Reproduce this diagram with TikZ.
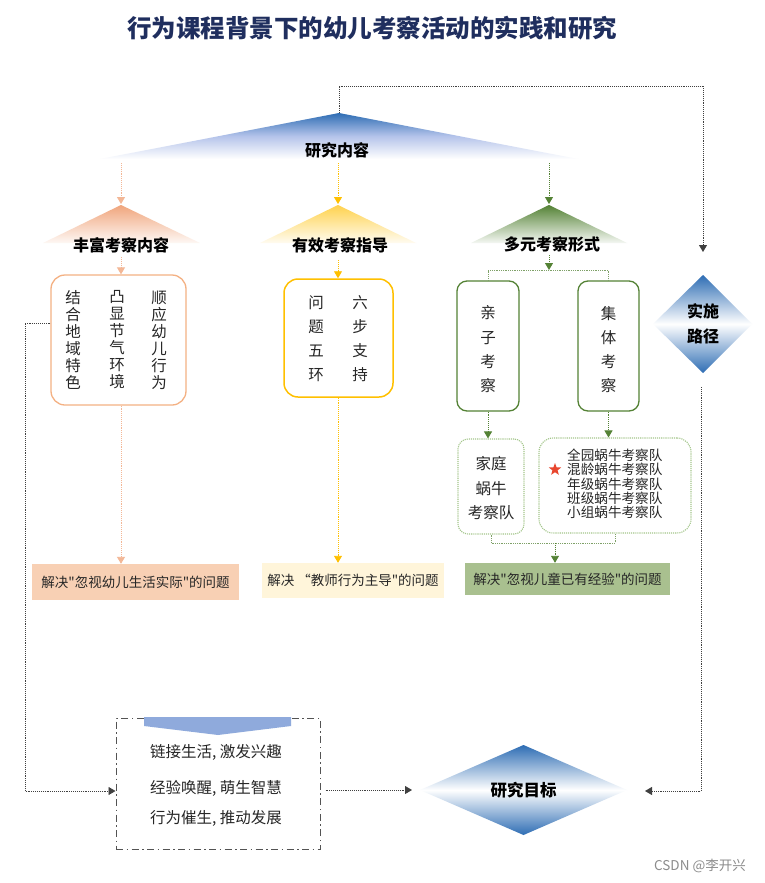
\documentclass[tikz,border=0pt]{standalone}
\usepackage{fontspec}
\setmainfont{Noto Sans CJK SC}
\newfontfamily\qf{Noto Sans CJK SC}
\usetikzlibrary{arrows.meta,shapes.geometric,calc}
\definecolor{navy}{HTML}{1F2E5E}
\definecolor{blueD}{HTML}{2E6DB4}
\definecolor{blueM}{HTML}{B4C3EA}
\definecolor{orgD}{HTML}{F0A57C}
\definecolor{orgB}{HTML}{F4B183}
\definecolor{orgF}{HTML}{F8D0B4}
\definecolor{ylwD}{HTML}{FFC000}
\definecolor{ylwT}{HTML}{FFD24D}
\definecolor{ylwF}{HTML}{FFF5DA}
\definecolor{grnD}{HTML}{548235}
\definecolor{grnL}{HTML}{A3C68A}
\definecolor{grnF}{HTML}{A9C08F}
\definecolor{txt}{HTML}{262626}
\definecolor{bann}{HTML}{8FAADC}
\definecolor{lineK}{HTML}{404040}
\newcommand\sq{{\qf "}}
\tikzset{
  conn/.style={densely dotted, line width=0.9pt},
  arr/.style={-{Triangle[width=8pt,length=7pt]}},
  head/.style={font=\bfseries\fontsize{16}{18}\selectfont, text=black, inner sep=1pt},
  col/.style={align=center, text=txt, inner sep=0pt},
  fillbox/.style={minimum width=#1, inner sep=0pt, text=txt, font=\fontsize{13.5}{16}\selectfont},
}
\begin{document}
\begin{tikzpicture}[x=1pt,y=-1pt]
\useasboundingbox (0,0) rectangle (765,883);
\fill[white] (0,0) rectangle (765,883);

% title
\node[font=\bfseries\fontsize{24.5}{28}\selectfont, text=navy] (title) at (372,28) {行为课程背景下的幼儿考察活动的实践和研究};

% 研究内容 triangle
\shade[top color=blueD, bottom color=white, middle color=blueM] (339,113) -- (578,159) -- (100,159) -- cycle;
\coordinate (rcApex) at (339,113);
\node[head] (rc) at (337,150) {研究内容};

% three sub triangles
\shade[top color=orgD, bottom color=orgD!8] (121,205) -- (200,243) -- (43,243) -- cycle;
\shade[top color=ylwT, bottom color=ylwT!8] (338,205) -- (416,243) -- (260,243) -- cycle;
\shade[top color=grnD, bottom color=grnD!6] (549,205) -- (627,243) -- (471,243) -- cycle;
\coordinate (t1) at (121,204);
\coordinate (t2) at (338,204);
\coordinate (t3) at (549,204);
\coordinate (s1) at (121,163);
\coordinate (s2) at (338,163);
\coordinate (s3) at (549,163);
\node[head] (h1) at (121,245) {丰富考察内容};
\node[head] (h2) at (340,245) {有效考察指导};
\node[head] (h3) at (552,244) {多元考察形式};

\draw[conn, orgD!80, arr] (s1) -- (t1);
\draw[conn, ylwD, arr] (s2) -- (t2);
\draw[conn, grnD, arr] (s3) -- (t3);

% orange box
\node[draw=orgB, line width=1.3pt, rounded corners=14pt, minimum width=135pt, minimum height=130pt] (b1) at (118.5,340) {};
\node[col, font=\fontsize{15.5}{17}\selectfont] (c1a) at (73,340) {结\\合\\地\\域\\特\\色};
\node[col, font=\fontsize{15.5}{17}\selectfont] (c1b) at (117,340) {凸\\显\\节\\气\\环\\境};
\node[col, font=\fontsize{15.5}{17}\selectfont] (c1c) at (159,340) {顺\\应\\幼\\儿\\行\\为};

% yellow box
\node[draw=ylwD, line width=1.5pt, rounded corners=14pt, minimum width=109pt, minimum height=118pt] (b2) at (338.5,338) {};
\node[col, font=\fontsize{15.5}{24}\selectfont] (c2a) at (316,339) {问\\题\\五\\环};
\node[col, font=\fontsize{15.5}{24}\selectfont] (c2b) at (360,339) {六\\步\\支\\持};

% green boxes
\node[draw=grnD, line width=1.3pt, rounded corners=10pt, minimum width=62pt, minimum height=130pt] (b3) at (488,346) {};
\node[col, font=\fontsize{15.5}{24.3}\selectfont] (c3) at (488,349.5) {亲\\子\\考\\察};
\node[draw=grnD, line width=1.3pt, rounded corners=10pt, minimum width=61pt, minimum height=130pt] (b4) at (608.5,346) {};
\node[col, font=\fontsize{15.5}{24.3}\selectfont] (c4) at (608.5,349.5) {集\\体\\考\\察};

\node[draw=grnL, densely dotted, line width=1.1pt, rounded corners=10pt, minimum width=66pt, minimum height=95pt] (b5) at (491,486.5) {};
\node[col, font=\fontsize{15.5}{24.5}\selectfont] (c5) at (491,488.5) {家庭\\蜗牛\\考察队};
\node[draw=grnL, densely dotted, line width=1.1pt, rounded corners=14pt, minimum width=152pt, minimum height=95pt] (b6) at (615,485.5) {};
\node[col, align=left, anchor=west, font=\fontsize{13.6}{14.3}\selectfont] (c6) at (567,484) {全园蜗牛考察队\\混龄蜗牛考察队\\年级蜗牛考察队\\班级蜗牛考察队\\小组蜗牛考察队};
\node[star, star points=5, star point ratio=2.4, fill={rgb,255:red,232;green,70;blue,46}, minimum size=13pt, inner sep=0pt] (star) at (555,469.5) {};

% heading -> box arrows
\coordinate (h1o) at (121,257);
\coordinate (h2o) at (338,260);
\coordinate (h3o) at (549,255);
\coordinate (gbar) at (549,270);
\draw[conn, orgD!80, arr] (h1o) -- (b1.north -| h1o);
\draw[conn, ylwD, arr] (h2o) -- (b2.north -| h2o);
\draw[conn, grnD, arr] (h3o) -- (gbar);
\draw[conn, grnD!75, line width=0.8pt] (b3.north) |- (gbar) -| (b4.north);
\draw[conn, grnD, arr] (b3.south) -- (b5.north -| b3.south);
\draw[conn, grnD, arr] (b4.south) -- (b6.north -| b4.south);

% bottom result boxes
\node[fillbox=207pt, minimum height=36pt, fill=orgF] (r1) at (135.5,582) {解决\sq 忽视幼儿生活实际\sq 的问题};
\node[fillbox=182pt, minimum height=35pt, fill=ylwF] (r2) at (353,580.5) {解决 “教师行为主导\sq 的问题};
\node[fillbox=205pt, minimum height=32pt, fill=grnF] (r3) at (567.5,579) {解决\sq 忽视儿童已有经验\sq 的问题};

\draw[conn, orgD!80, arr] (b1.south -| h1o) -- (r1.north -| h1o);
\draw[conn, ylwD, arr] (b2.south -| h2o) -- (r2.north -| h2o);
\coordinate (gbot) at (555,543);
\draw[conn, grnD!75, line width=0.8pt] (b5.south) |- (gbot) -| (b6.south);
\draw[conn, grnD, arr] (gbot) -- (r3.north -| gbot);

% 实施路径 diamond
\shade[top color=blueD, bottom color=blueD, middle color=white] (703,275) -- (752,324) -- (703,373) -- (653,324) -- cycle;
\node[head, align=center, font=\bfseries\fontsize{16}{25}\selectfont] (sp) at (703,324) {实施\\路径};
\coordinate (spIn) at (703,252);
\coordinate (spOut) at (701,387);
\coordinate (topY) at (339,86);
\draw[conn, lineK, arr] (rcApex) -- (topY) -| (spIn);

% bottom box
\node[draw=lineK!90, line width=1pt, dash pattern=on 7pt off 3.5pt on 1.5pt off 3.5pt, minimum width=204pt, minimum height=131pt] (bb) at (218,783.5) {};
\fill[bann] (144,717) -- (291,717) -- (291,726) -- (218,735) -- (144,726) -- cycle;
\node[text=txt, font=\fontsize{15.5}{18}\selectfont] (l1) at (216,752) {链接生活, 激发兴趣};
\node[text=txt, font=\fontsize{15.5}{18}\selectfont] (l2) at (216,788) {经验唤醒, 萌生智慧};
\node[text=txt, font=\fontsize{15.5}{18}\selectfont] (l3) at (216,818) {行为催生, 推动发展};

% 研究目标 diamond
\shade[top color=blueD, bottom color=blueD, middle color=white] (523.5,745) -- (627,790) -- (523.5,835) -- (420,790) -- cycle;
\node[head, font=\bfseries\fontsize{16.5}{18}\selectfont] (goal) at (523.5,790) {研究目标};
\coordinate (goalL) at (412,790);
\coordinate (goalR) at (645,791);
\coordinate (lcorner) at (25,791);

\draw[conn, lineK, arr] ([yshift=17pt]b1.west) -| (lcorner) -- ([yshift=-7.5pt]bb.west);
\draw[conn, lineK, arr] ([xshift=5pt,yshift=-6.5pt]bb.east) -- (goalL);
\draw[conn, lineK, arr] (spOut) |- (goalR);

% watermark
\node[text=black!45, font=\fontsize{13.5}{16}\selectfont] (wm) at (700,866) {CSDN @李开兴};
\end{tikzpicture}
\end{document}
